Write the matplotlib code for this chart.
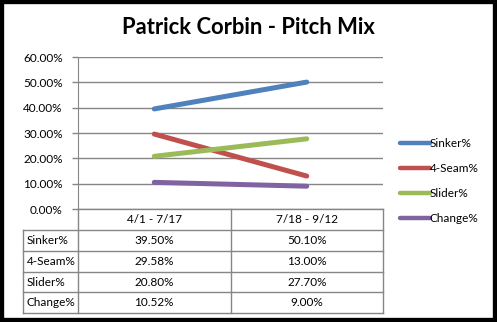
import matplotlib.pyplot as plt
from matplotlib.patches import Rectangle
import numpy as np

# pitch mix by period
periods = ["4/1 - 7/17", "7/18 - 9/12"]
pitches = ["Sinker%", "4-Seam%", "Slider%", "Change%"]
sinker = [39.50, 50.10]
four_seam = [29.58, 13.00]
slider = [20.80, 27.70]
change = [10.52, 9.00]
colors = ["#4F81BD", "#C0504D", "#9BBB59", "#8064A2"]
yticks = [0, 10, 20, 30, 40, 50, 60]

series = [sinker, four_seam, slider, change]
W, H = 497, 322
FONT = "Lato"
GRID = "#868686"

fig = plt.figure(figsize=(W / 100, H / 100), dpi=100)
fig.patch.set_facecolor("white")


def fx(px):
    return px / W


def fy(py):
    return 1 - py / H


# chart area
ax = fig.add_axes([fx(78), fy(209), fx(383) - fx(78), fy(57) - fy(209)])
x = np.arange(len(periods)) + 0.5
for vals, c, name in zip(series, colors, pitches):
    ax.plot(x, np.array(vals) / 100, color=c, lw=3.6, solid_capstyle="round", label=name)
ax.set_xlim(0, len(periods))
ax.set_ylim(0, 0.6)
ax.set_yticks(np.array(yticks) / 100)
ax.set_yticklabels([f"{v:.2f}%" for v in yticks], fontfamily=FONT, fontsize=8.5)
ax.set_xticks([])
ax.yaxis.grid(True, color=GRID, lw=1)
ax.tick_params(axis="y", length=4, width=1, color=GRID, pad=7)
for s in ["top", "right", "bottom"]:
    ax.spines[s].set_visible(False)
ax.spines["left"].set_color(GRID)
ax.set_axisbelow(True)

# data table under the chart
lab_w = (78 - 22.7) / 152.5
tax = fig.add_axes([fx(22.7), fy(313.3), fx(383) - fx(22.7), fy(209) - fy(313.3)])
tax.set_xlim(-lab_w, len(periods))
tax.set_ylim(len(pitches) + 1, 0)
tax.axis("off")
nrow = len(pitches) + 1
kw = dict(color=GRID, lw=1, clip_on=False)
tax.plot([0, len(periods)], [0, 0], **kw)
for r in range(1, nrow + 1):
    tax.plot([-lab_w, len(periods)], [r, r], **kw)
for c in range(len(periods) + 1):
    tax.plot([c, c], [0, nrow], **kw)
tax.plot([-lab_w, -lab_w], [1, nrow], **kw)
for i, p in enumerate(periods):
    tax.text(i + 0.5, 0.5, p, ha="center", va="center", fontfamily=FONT, fontsize=8.5)
for r, (name, vals) in enumerate(zip(pitches, series), start=1):
    tax.text(-lab_w + 0.025, r + 0.5, name, ha="left", va="center", fontfamily=FONT, fontsize=8.5)
    for i, v in enumerate(vals):
        tax.text(i + 0.5, r + 0.5, f"{v:.2f}%", ha="center", va="center", fontfamily=FONT, fontsize=8.5)

# legend
leg = ax.legend(loc="upper left", bbox_to_anchor=(fx(400), fy(138)), bbox_transform=fig.transFigure,
                frameon=False, handlelength=2.5, handletextpad=0.0, labelspacing=1.2,
                prop=dict(family=FONT, size=8.5), borderaxespad=0, borderpad=0)
for h in leg.get_lines():
    h.set_linewidth(3.2)

fig.text(0.5, fy(27), "Patrick Corbin - Pitch Mix", ha="center", va="center",
         fontfamily=FONT, fontweight="bold", fontsize=15.8)

# outer frame
fig.add_artist(Rectangle((0, 0), 1, 1, transform=fig.transFigure, fill=False,
                         edgecolor="black", lw=6))

fig.savefig("out.png", dpi=100)
